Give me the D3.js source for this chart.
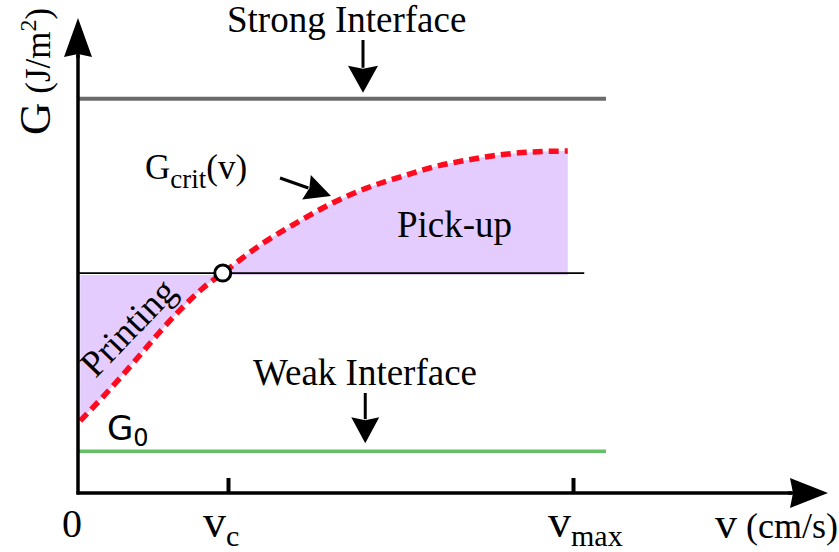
<!DOCTYPE html>
<html>
<head>
<meta charset="utf-8">
<script src="https://cdn.jsdelivr.net/npm/d3@7"></script>
<style>
  body { margin: 0; background: #fff; }
  text { font-family: "Liberation Serif", "Times New Roman", serif; fill: #000; }
</style>
</head>
<body>
<div id="container"></div>
<script>
/* CONSTANTS AND GLOBALS */
const width = 839, height = 552;

/* DATA (arbitrary units 0-100 on both axes) */
const critV = [0.3, 3.3, 5.6, 8.3, 10.9, 13.6, 16.7, 19.3, 24.3, 29.6, 34, 38.5, 42.9, 47.3, 51.9, 56.3, 60.7, 65.3];
const critG = [15.2, 20.2, 24.2, 29.1, 33.9, 38.5, 43.2, 46.3, 52.2, 57.3, 61.1, 64.2, 66.5, 68.6, 70.1, 71.2, 71.8, 72.0];
const crossIndex = 7;            // G_crit(v_c) : the open circle
const gStrong = 83, gWeak = 8.8; // interface levels
const interfaceEnd = 70.4;       // where the two interface lines stop
const crossLineEnd = 67.5;       // where the thin black line stops
const tickV = [20, 66];
const tickMain = ["v", "v"];
const tickSub = ["c", "max"];

const critData = critV.map((v, i) => ({ v: v, g: critG[i] }));
const gCross = critG[crossIndex];

/* SCALES */
const xScale = d3.scaleLinear()
  .domain([0, 100])
  .range([78, 828]);

const yScale = d3.scaleLinear()
  .domain([0, 100])
  .range([493, 18]);

/* SVG */
const svg = d3.select("#container")
  .append("svg")
  .attr("width", width)
  .attr("height", height);

// arrow helper: shaft + filled triangular head
function arrow(x1, y1, x2, y2, len, half, sw) {
  const d = Math.hypot(x2 - x1, y2 - y1);
  const ux = (x2 - x1) / d, uy = (y2 - y1) / d;
  const bx = x2 - ux * len, by = y2 - uy * len;
  svg.append("line")
    .attr("x1", x1).attr("y1", y1)
    .attr("x2", bx + ux * 2).attr("y2", by + uy * 2)
    .attr("stroke", "#000").attr("stroke-width", sw);
  svg.append("path")
    .attr("d", `M${x2},${y2}L${bx - uy * half},${by + ux * half}L${bx + ux * 3},${by + uy * 3}L${bx + uy * half},${by - ux * half}Z`)
    .attr("fill", "#000");
}

/* FILLED REGIONS (between G_crit and the G_crit(v_c) level) */
const area = d3.area()
  .x(d => xScale(d.v))
  .y0(yScale(gCross) + 2)
  .y1(d => yScale(d.g))
  .curve(d3.curveMonotoneX);

svg.append("path")
  .datum(critData)
  .attr("d", area)
  .attr("fill", "#e5ccff");

/* HORIZONTAL LEVELS */
svg.append("line")
  .attr("x1", xScale(0)).attr("x2", xScale(interfaceEnd))
  .attr("y1", yScale(gStrong)).attr("y2", yScale(gStrong))
  .attr("stroke", "#6b6b6b").attr("stroke-width", 4);

svg.append("line")
  .attr("x1", xScale(0)).attr("x2", xScale(interfaceEnd))
  .attr("y1", yScale(gWeak)).attr("y2", yScale(gWeak))
  .attr("stroke", "#64c064").attr("stroke-width", 3.5);

svg.append("line")
  .attr("x1", xScale(0)).attr("x2", xScale(crossLineEnd))
  .attr("y1", yScale(gCross)).attr("y2", yScale(gCross))
  .attr("stroke", "#000").attr("stroke-width", 1.6);

/* G_crit CURVE */
const lineGen = d3.line()
  .x(d => xScale(d.v))
  .y(d => yScale(d.g))
  .curve(d3.curveMonotoneX);

svg.append("path")
  .datum(critData)
  .attr("d", lineGen)
  .attr("fill", "none")
  .attr("stroke", "#ff0a1e")
  .attr("stroke-width", 5.5)
  .attr("stroke-dasharray", "10,6");

svg.append("circle")
  .attr("cx", xScale(critV[crossIndex]))
  .attr("cy", yScale(gCross))
  .attr("r", 8)
  .attr("fill", "#fff")
  .attr("stroke", "#000")
  .attr("stroke-width", 3);

/* AXES */
const xAxis = d3.axisBottom(xScale)
  .tickValues(tickV)
  .tickSizeInner(-15)
  .tickSizeOuter(0)
  .tickFormat("");

svg.append("g")
  .attr("transform", `translate(0,${yScale(0)})`)
  .call(xAxis)
  .call(g => g.select(".domain").attr("d", `M${xScale(0) - 1.5},0H${xScale(100) - 30}`).attr("stroke-width", 3.5))
  .call(g => g.selectAll(".tick line").attr("stroke-width", 4));

const yAxis = d3.axisLeft(yScale)
  .tickValues([])
  .tickSizeOuter(0);

svg.append("g")
  .attr("transform", `translate(${xScale(0)},0)`)
  .call(yAxis)
  .call(g => g.select(".domain").attr("d", `M0,${yScale(0) + 1.5}V${yScale(100) + 30}`).attr("stroke-width", 3.5));

// axis arrow heads
arrow(xScale(100) - 40, yScale(0), xScale(100), yScale(0), 38, 15, 3.5);
arrow(xScale(0), yScale(100) + 40, xScale(0), yScale(100), 39, 14, 3.5);

/* TICK LABELS */
svg.append("text")
  .attr("x", xScale(0) - 6)
  .attr("y", 537)
  .attr("text-anchor", "middle")
  .style("font-size", "40px")
  .text("0");

tickV.forEach((v, i) => {
  const t = svg.append("text")
    .attr("x", xScale(v) - 25)
    .attr("y", 537);
  t.append("tspan").style("font-size", "46px").text(tickMain[i]);
  t.append("tspan").attr("dy", 9).style("font-size", "30px").text(tickSub[i]);
});

// x axis title
const xt = svg.append("text").attr("x", 715).attr("y", 538);
xt.append("tspan").style("font-size", "44px").text("v");
xt.append("tspan").style("font-size", "36px").text(" (cm/s)");

// y axis title
const yt = svg.append("text")
  .attr("transform", "translate(50,135) rotate(-90)");
yt.append("tspan").style("font-size", "45px").text("G");
yt.append("tspan").style("font-size", "35px").text(" (J/m");
yt.append("tspan").attr("dy", -14).style("font-size", "24px").text("2");
yt.append("tspan").attr("dy", 14).style("font-size", "35px").text(")");

/* ANNOTATIONS */
svg.append("text")
  .attr("x", 227).attr("y", 32)
  .style("font-size", "37px")
  .text("Strong Interface");
arrow(xScale(38), 40, xScale(38), yScale(gStrong) - 6, 27, 15, 3);

svg.append("text")
  .attr("x", 253).attr("y", 385)
  .style("font-size", "37px")
  .text("Weak Interface");
arrow(xScale(38.3), 393, xScale(38.3), yScale(gWeak) - 8, 26, 14, 3);

svg.append("text")
  .attr("x", 397).attr("y", 237)
  .style("font-size", "37px")
  .text("Pick-up");

const gc = svg.append("text").attr("x", 145).attr("y", 179);
gc.append("tspan").style("font-size", "35px").text("G");
gc.append("tspan").attr("dy", 9).style("font-size", "27px").text("crit");
gc.append("tspan").attr("dy", -9).style("font-size", "35px").text("(v)");
arrow(280, 178, 331, 196, 26, 13, 3);

svg.append("text")
  .attr("text-anchor", "middle")
  .attr("transform", "translate(137,336) rotate(-46)")
  .style("font-size", "37px")
  .text("Printing");

const g0 = svg.append("text")
  .attr("x", 107).attr("y", 440)
  .style("font-family", "'DejaVu Sans', sans-serif");
g0.append("tspan").style("font-size", "34px").text("G");
g0.append("tspan").attr("dy", 6).style("font-size", "24px").text("0");
</script>
</body>
</html>
